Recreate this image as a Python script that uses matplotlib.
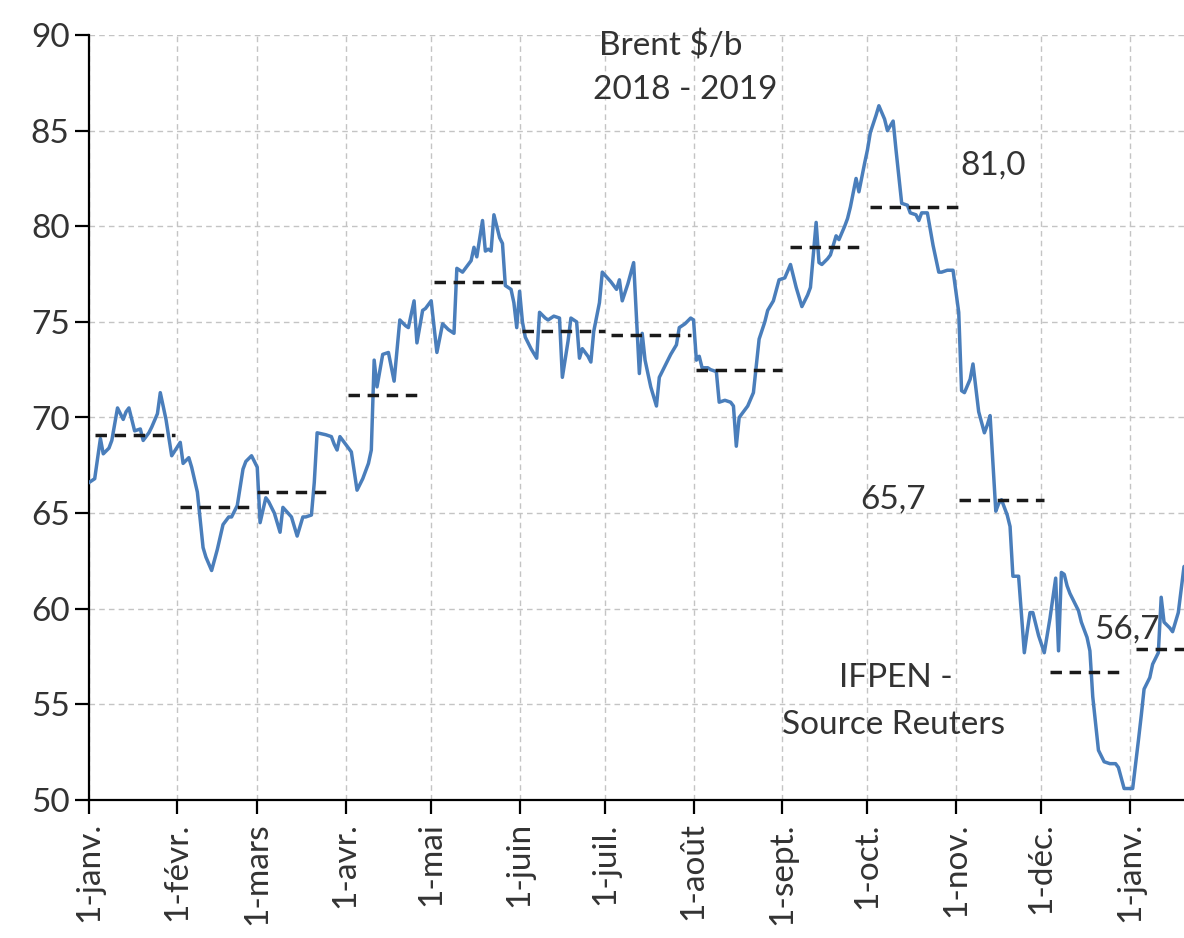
import datetime as dt
import matplotlib
matplotlib.use('Agg')
import matplotlib.pyplot as plt
import matplotlib.dates as mdates

plt.rcParams['font.family'] = ['Lato', 'DejaVu Sans']

# Brent $/b; x = days counted from 1 Jan 2018
days = [0, 2, 4, 5, 7, 8, 10, 12, 13, 14, 16, 18, 19, 21, 22, 24, 25, 27, 29, 32,
        33, 35, 36, 38, 40, 41, 43, 45, 47, 49, 50, 52, 54, 55, 57, 59, 60, 62, 63, 65,
        67, 68, 71, 72, 73, 75, 76, 78, 79, 80, 83, 85, 86, 87, 88, 90, 92, 94, 96, 98,
        99, 100, 101, 103, 105, 107, 109, 111, 112, 114, 115, 117, 118, 120, 122, 124, 126, 128, 129, 131,
        134, 135, 136, 138, 139, 140, 141, 142, 144, 145, 146, 148, 149, 150, 151, 152, 153, 155, 157, 158,
        160, 161, 163, 165, 166, 168, 169, 171, 172, 173, 175, 176, 177, 179, 180, 183, 185, 186, 187, 189,
        191, 193, 194, 195, 197, 199, 200, 201, 204, 206, 207, 209, 211, 212, 213, 214, 215, 217, 218, 220,
        221, 223, 225, 226, 227, 228, 231, 233, 235, 237, 238, 240, 242, 244, 246, 248, 250, 252, 253, 255,
        256, 257, 259, 260, 262, 263, 265, 266, 267, 269, 270, 272, 273, 274, 276, 277, 279, 280, 282, 283,
        285, 287, 288, 290, 291, 292, 293, 294, 296, 298, 299, 301, 303, 305, 306, 307, 309, 310, 312, 314,
        315, 316, 318, 319, 320, 321, 322, 323, 324, 326, 328, 329, 330, 331, 333, 335, 337, 339, 340, 341,
        342, 343, 344, 347, 348, 350, 351, 352, 354, 356, 358, 360, 361, 363, 365, 366, 368, 369, 370, 372,
        373, 375, 376, 377, 379, 380, 382, 384, 385]
brent = [66.6, 66.8, 68.9, 68.1, 68.4, 68.8, 70.5, 69.9, 70.3, 70.5, 69.3, 69.4, 68.8, 69.2, 69.5, 70.2, 71.3, 69.9, 68.0, 68.7,
         67.6, 67.9, 67.4, 66.1, 63.2, 62.7, 62.0, 63.1, 64.4, 64.8, 64.8, 65.4, 67.3, 67.7, 68.0, 67.4, 64.5, 65.8, 65.6, 65.0,
         64.0, 65.3, 64.8, 64.3, 63.8, 64.8, 64.8, 64.9, 66.6, 69.2, 69.1, 69.0, 68.6, 68.3, 69.0, 68.6, 68.2, 66.2, 66.8, 67.6,
         68.3, 73.0, 71.6, 73.3, 73.4, 71.9, 75.1, 74.8, 74.7, 76.1, 73.9, 75.6, 75.7, 76.1, 73.4, 74.9, 74.6, 74.4, 77.8, 77.6,
         78.2, 78.9, 78.4, 80.3, 78.7, 78.8, 78.7, 80.6, 79.4, 79.1, 76.9, 76.7, 76.0, 74.7, 76.6, 75.0, 74.2, 73.6, 73.1, 75.5,
         75.2, 75.1, 75.3, 75.2, 72.1, 74.0, 75.2, 75.0, 73.1, 73.6, 73.2, 72.9, 74.5, 76.0, 77.6, 77.1, 76.7, 77.2, 76.1, 77.0,
         78.1, 72.3, 74.4, 73.0, 71.6, 70.6, 72.1, 72.4, 73.3, 73.8, 74.7, 74.9, 75.2, 75.1, 73.0, 73.2, 72.6, 72.6, 72.5, 72.4,
         70.8, 70.9, 70.8, 70.6, 68.5, 70.0, 70.6, 71.3, 74.1, 75.0, 75.6, 76.1, 77.2, 77.3, 78.0, 76.8, 75.8, 76.4, 76.8, 80.2,
         78.1, 78.0, 78.3, 78.5, 79.5, 79.3, 80.0, 80.4, 81.0, 82.5, 81.8, 83.3, 84.0, 84.9, 85.8, 86.3, 85.6, 85.0, 85.5, 84.0,
         81.2, 81.1, 80.7, 80.6, 80.3, 80.7, 80.7, 80.7, 79.0, 77.6, 77.6, 77.7, 77.7, 75.5, 71.4, 71.3, 72.0, 72.8, 70.3, 69.2,
         69.6, 70.1, 65.1, 65.5, 65.7, 65.3, 64.9, 64.3, 61.7, 61.7, 57.7, 58.8, 59.8, 59.8, 58.6, 57.7, 59.5, 61.6, 57.8, 61.9,
         61.8, 61.2, 60.8, 59.9, 59.3, 58.5, 57.8, 55.4, 52.6, 52.0, 51.9, 51.9, 51.7, 50.6, 50.6, 50.6, 53.1, 54.4, 55.8, 56.4,
         57.1, 57.7, 60.6, 59.3, 59.0, 58.8, 59.8, 62.2, 62.3]

# monthly averages (dashed): first day, last day, value
avg_start = [2, 32, 59, 91, 121, 152, 183, 213, 246, 274, 305, 337, 367]
avg_end = [30, 58, 85, 117, 151, 181, 211, 243, 271, 305, 335, 363, 386]
avg_value = [69.1, 65.3, 66.1, 71.2, 77.1, 74.5, 74.3, 72.5, 78.9, 81.0, 65.7, 56.7, 57.9]

tick_dates = ['2018-01-01', '2018-02-01', '2018-03-01', '2018-04-01', '2018-05-01', '2018-06-01',
              '2018-07-01', '2018-08-01', '2018-09-01', '2018-10-01', '2018-11-01', '2018-12-01',
              '2019-01-01']
tick_labels = ['1-janv.', '1-févr.', '1-mars', '1-avr.', '1-mai', '1-juin', '1-juil.', '1-août',
               '1-sept.', '1-oct.', '1-nov.', '1-déc.', '1-janv.']

start = dt.date(2018, 1, 1)
def to_date(d):
    return start + dt.timedelta(days=d)

fig = plt.figure(figsize=(11.84, 9.38), dpi=100)
ax = fig.add_axes([89 / 1184, 138 / 938, 1095 / 1184, 765 / 938])

ax.plot([to_date(d) for d in days], brent, color='#4a7ebb', lw=2.5, zorder=3)
for s, e, v in zip(avg_start, avg_end, avg_value):
    ax.plot([to_date(s), to_date(e)], [v, v], color='#1a1a1a', lw=2.5,
            linestyle=(0, (3.3, 2.2)), zorder=4)

ax.set_xlim(to_date(0), start + dt.timedelta(days=384.35))
ax.set_ylim(50, 90)
ax.set_yticks(range(50, 91, 5))
ax.set_xticks([dt.date.fromisoformat(t) for t in tick_dates])
ax.set_xticklabels(tick_labels, rotation=90)

ax.grid(True, color='#c4c4c4', lw=1, linestyle=(0, (4, 3)))
ax.set_axisbelow(True)
for side in ['top', 'right']:
    ax.spines[side].set_visible(False)
for side in ['left', 'bottom']:
    ax.spines[side].set_linewidth(1.6)
    ax.spines[side].set_color('black')
ax.tick_params(axis='both', labelsize=24, colors='black', labelcolor='#333333',
               length=10, width=1.6, direction='out')
ax.tick_params(axis='y', pad=4)
ax.tick_params(axis='x', pad=6)

txt = dict(fontsize=24, color='#333333', ha='center', va='center', clip_on=False)
ax.text(to_date(204.6), 89.4, 'Brent $/b', **txt)
ax.text(to_date(209), 87.1, '2018 - 2019', **txt)
ax.text(to_date(317), 83.2, '81,0', **txt)
ax.text(to_date(282), 65.7, '65,7', **txt)
ax.text(to_date(364), 58.9, '56,7', **txt)
ax.text(to_date(283.6), 56.4, 'IFPEN -', **txt)
ax.text(to_date(282.7), 53.9, 'Source Reuters', **txt)

fig.savefig('out.png', dpi=100)
